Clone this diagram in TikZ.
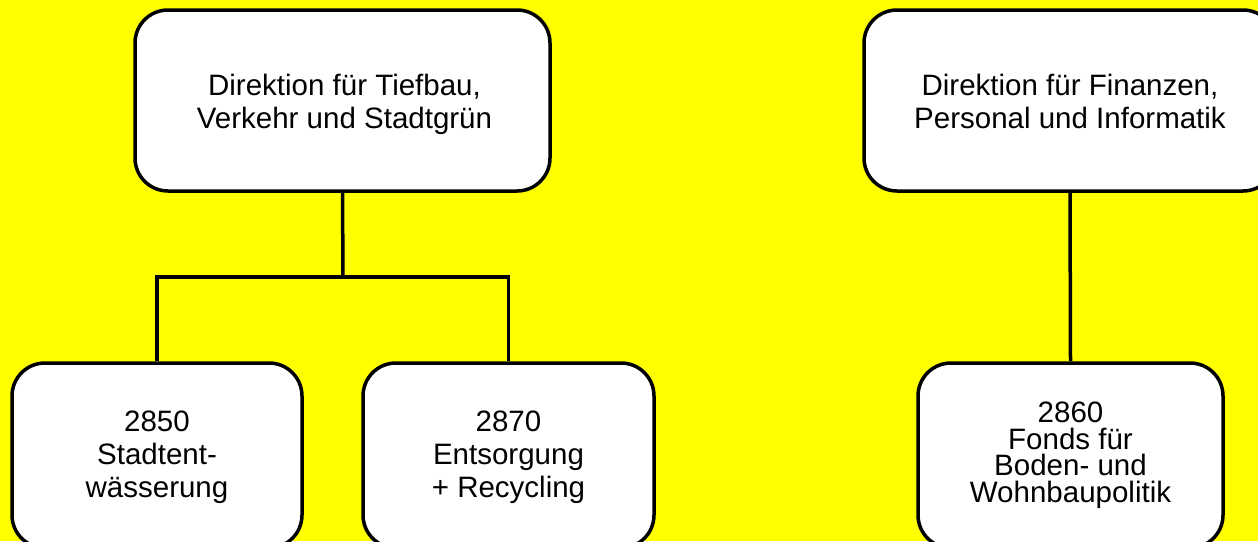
\documentclass[tikz,border=0pt]{standalone}
\usepackage{fontspec}
\setmainfont{Liberation Sans}
\definecolor{bgyellow}{HTML}{FFFF00}
\newcommand{\firstline}{\rule{0pt}{25pt}}
\begin{document}
\begin{tikzpicture}[x=1pt,y=-1pt,
  orgbox/.style={draw=black,fill=white,line width=3.5pt,rounded corners=33pt,inner sep=0pt},
  orgtext/.style={anchor=north,inner sep=0pt,align=center,font=\fontsize{29.5}{33}\selectfont},
  conn/.style={draw=black,line width=3.5pt}]
\useasboundingbox (0,0) rectangle (1258,541);
\clip (0,0) rectangle (1258,541);
\fill[bgyellow] (0,0) rectangle (1258,541);
% boxes
\node[orgbox,minimum width=415pt,minimum height=181pt] (tb) at (342.5,100.5) {};
\node[orgbox,minimum width=412pt,minimum height=181pt] (fin) at (1070,100.5) {};
\node[orgbox,minimum width=290pt,minimum height=185pt] (s2850) at (157,455.5) {};
\node[orgbox,minimum width=291pt,minimum height=185pt] (s2870) at (508.5,455.5) {};
\node[orgbox,minimum width=305pt,minimum height=185pt] (s2860) at (1070.5,455.5) {};
% texts (north = first baseline - 25)
\node[orgtext] (tbt) at (344.5,70) {\firstline Direktion für Tiefbau,\\Verkehr und Stadtgrün};
\node[orgtext] (fint) at (1070,70) {\firstline Direktion für Finanzen,\\Personal und Informatik};
\node[orgtext] (t2850) at (157,406.5) {\firstline 2850\\Stadtent-\\wässerung};
\node[orgtext] (t2870) at (508.5,406.5) {\firstline 2870\\Entsorgung\\+ Recycling};
\node[orgtext,font=\fontsize{29.5}{26.8}\selectfont] (t2860) at (1070.5,397) {\firstline 2860\\Fonds für\\Boden- und\\Wohnbaupolitik};
% connectors
\coordinate (j) at (343,277);
\draw[conn] (tb.south) -- (j);
\draw[conn] (s2850.north) |- (j) -| (s2870.north);
\draw[conn] (fin.south) -- (s2860.north);
\end{tikzpicture}
\end{document}
